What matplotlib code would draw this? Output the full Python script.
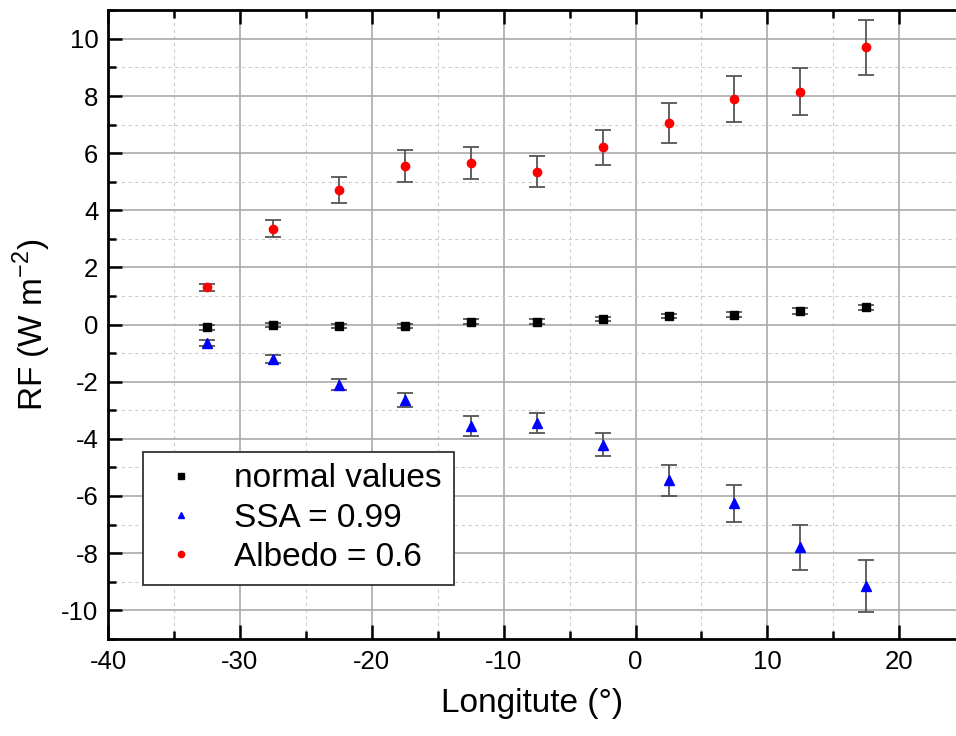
import numpy as np
import matplotlib
matplotlib.use("Agg")
import matplotlib.pyplot as plt
from matplotlib.ticker import MultipleLocator

plt.rcParams['font.family'] = ['Liberation Sans', 'DejaVu Sans']
plt.rcParams['axes.unicode_minus'] = False
plt.rcParams['mathtext.fontset'] = 'custom'
plt.rcParams['mathtext.rm'] = 'Liberation Sans'

lon = [-32.5, -27.5, -22.5, -17.5, -12.5, -7.5, -2.5, 2.5, 7.5, 12.5, 17.5]

normal = [-0.1, -0.02, -0.05, -0.05, 0.1, 0.1, 0.2, 0.3, 0.35, 0.48, 0.6]
normal_err = [0.08, 0.08, 0.08, 0.08, 0.08, 0.08, 0.08, 0.08, 0.08, 0.1, 0.1]

ssa = [-0.65, -1.2, -2.1, -2.65, -3.55, -3.45, -4.2, -5.45, -6.25, -7.8, -9.15]
ssa_err = [0.1, 0.15, 0.2, 0.25, 0.35, 0.35, 0.4, 0.55, 0.65, 0.8, 0.9]

albedo = [1.3, 3.35, 4.7, 5.55, 5.65, 5.35, 6.2, 7.05, 7.9, 8.15, 9.7]
albedo_err = [0.12, 0.3, 0.45, 0.55, 0.55, 0.55, 0.6, 0.7, 0.8, 0.82, 0.97]

fig = plt.figure(figsize=(9.56, 7.36), dpi=100)
ax = fig.add_axes([0.113, 0.132, 0.887, 0.854])

ekw = dict(ecolor='#555555', elinewidth=1.3, capsize=5.5, capthick=1.3, linestyle='none')
ax.errorbar(lon, normal, yerr=normal_err, marker='s', ms=5.5, color='black', label='normal values', **ekw)
ax.errorbar(lon, ssa, yerr=ssa_err, marker='^', ms=6.5, color='blue', label='SSA = 0.99', **ekw)
ax.errorbar(lon, albedo, yerr=albedo_err, marker='o', ms=6, color='red', label='Albedo = 0.6', **ekw)

ax.set_xlim(-40, 24.3)
ax.set_ylim(-11, 11)
ax.xaxis.set_major_locator(MultipleLocator(10))
ax.xaxis.set_minor_locator(MultipleLocator(5))
ax.yaxis.set_major_locator(MultipleLocator(2))
ax.yaxis.set_minor_locator(MultipleLocator(1))

ax.grid(which='major', color='#aaaaaa', linewidth=1.2, linestyle='-')
ax.grid(which='minor', color='#cccccc', linewidth=0.8, linestyle=(0, (3, 3)))
ax.set_axisbelow(True)

ax.tick_params(which='both', direction='in', top=True, right=False, width=1.8, labelsize=18.5)
ax.tick_params(which='major', length=10)
ax.tick_params(which='minor', length=6)
for side in ['left', 'bottom', 'top']:
    ax.spines[side].set_linewidth(2)
ax.spines['right'].set_visible(False)
ax.tick_params(axis='x', pad=8)
ax.tick_params(axis='y', pad=7)

ax.set_xlabel('Longitute (°)', fontsize=24, labelpad=10)
ax.set_ylabel(r'RF (W m$^{\mathrm{-2}}$)', fontsize=24, labelpad=6)

handles, labels = ax.get_legend_handles_labels()
handles = [h[0] for h in handles]
leg = ax.legend(handles, labels, loc='lower left', bbox_to_anchor=(0.041, 0.086), fontsize=24,
                frameon=True, fancybox=False, edgecolor='#333333', framealpha=1,
                markerscale=0.75, handlelength=1.6, handletextpad=0.8, borderpad=0.35,
                borderaxespad=0, labelspacing=0.25)
leg.get_frame().set_linewidth(1.3)

fig.savefig('out.png', dpi=100)
